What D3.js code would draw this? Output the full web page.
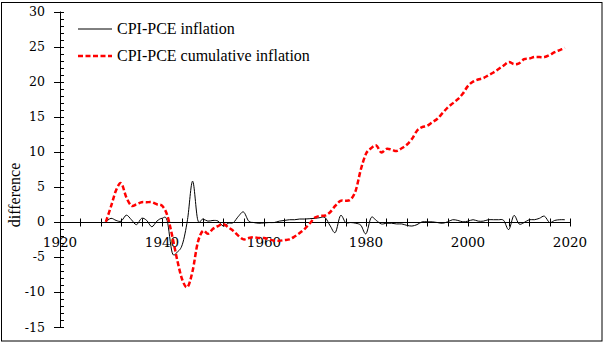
<!DOCTYPE html>
<html><head><meta charset="utf-8">
<script src="https://cdn.jsdelivr.net/npm/d3@7"></script>
<style>body{margin:0;background:#fff}svg{display:block}
.ser{font-family:'Liberation Serif','Times New Roman',serif}
.dser{font-family:'DejaVu Serif',serif}
</style>
</head><body>
<svg id="c" width="607" height="344"></svg>
<script>
const years = d3.range(1929, 2020);
const inflationDiff = [
 0.0, 0.5, 0.2, 0.1, 0.95, 0.3, -0.4, 0.5, 0.2, -0.7,
 0.1, 0.5, 0.2, -4.4, -4.3, -3.2, 0.3, 5.8, 0.3, 0.4,
 0.1, 0.2, 0.1, -0.6, -0.2, -0.1, 0.8, 1.4, 0.1, -0.1,
 -0.2, -0.15, -0.1, -0.1, 0.1, 0.2, 0.3, 0.3, 0.4, 0.4,
 0.45, 0.5, 0.6, 0.6, -0.6, -1.5, 0.9, -0.1, -0.1, -0.2,
 -0.5, -1.7, 0.6, 0.2, -0.3, -0.2, -0.2, -0.3, -0.3, -0.5,
 -0.6, -0.4, 0.0, 0.0, 0.0, -0.1, -0.2, 0.0, 0.3, 0.2,
 0.0, 0.1, 0.3, 0.1, 0.1, 0.3, 0.3, 0.3, 0.2, -1.1,
 0.9, -0.3, -0.1, 0.3, 0.3, 0.5, 0.8, -0.1, 0.2, 0.3,
 0.3
];
const cumulativeDiff = [
 0.0, 2.2, 4.5, 5.5, 3.5, 2.3, 2.5, 2.8, 2.8, 2.8,
 2.5, 2.3, 1.0, -2.0, -5.5, -8.3, -9.3, -7.0, -3.0, -1.3,
 -1.7, -1.0, -0.6, -0.3, -0.8, -1.3, -2.0, -2.5, -2.3, -2.2,
 -2.3, -2.3, -2.5, -2.7, -2.7, -2.6, -2.5, -2.1, -1.6, -1.0,
 -0.2, 0.6, 0.85, 0.9, 1.4, 2.3, 3.0, 3.0, 3.2, 4.5,
 7.5, 9.7, 10.5, 10.9, 9.9, 10.4, 10.3, 10.1, 10.5, 11.0,
 11.8, 13.0, 13.5, 13.7, 14.2, 14.7, 15.5, 16.3, 16.9, 17.5,
 18.3, 19.4, 20.0, 20.3, 20.5, 20.9, 21.3, 21.8, 22.3, 22.8,
 22.5, 22.6, 23.2, 23.3, 23.5, 23.5, 23.5, 23.8, 24.2, 24.5,
 24.8
];
const seriesNames = ["CPI-PCE inflation", "CPI-PCE cumulative inflation"];
const xTickLabels = [1920, 1940, 1960, 1980, 2000, 2020];
const yTickLabels = [30, 25, 20, 15, 10, 5, 0, -5, -10, -15];
const yTitle = "difference";

const svg = d3.select("#c");
const x = d3.scaleLinear().domain([1920, 2020]).range([60, 570]);
const y = d3.scaleLinear().domain([-15, 30]).range([327, 11.5]);

svg.append("rect").attr("x", 1.5).attr("y", 2.5).attr("width", 600.5).attr("height", 338.5)
  .attr("fill", "none").attr("stroke", "#000").attr("stroke-width", 1);

// Y axis
const gy = svg.append("g");
gy.append("line").attr("x1", 60.5).attr("x2", 60.5).attr("y1", y(30)).attr("y2", y(-15)).attr("stroke", "#000");
d3.range(-15, 31, 1).forEach(v => {
  const major = v % 5 === 0;
  gy.append("line").attr("x1", major ? 54 : 60).attr("x2", 64)
    .attr("y1", Math.round(y(v)) + 0.5).attr("y2", Math.round(y(v)) + 0.5).attr("stroke", "#000");
});
yTickLabels.forEach(v => {
  gy.append("text").attr("class", "dser").attr("x", 45).attr("y", y(v)).attr("dy", "0.36em")
    .attr("text-anchor", "end").attr("font-size", 12.5)
    .text(v < 0 ? "-" + Math.abs(v) : v);
});

// X axis at zero
const gx = svg.append("g");
const y0 = Math.round(y(0)) + 0.5;
gx.append("line").attr("x1", x(1920)).attr("x2", x(2020)).attr("y1", y0).attr("y2", y0).attr("stroke", "#000");
d3.range(1920, 2021, 4).forEach(v => {
  gx.append("line").attr("x1", Math.round(x(v)) + 0.5).attr("x2", Math.round(x(v)) + 0.5)
    .attr("y1", y0 - 4).attr("y2", y0 + 4).attr("stroke", "#000");
});
xTickLabels.forEach(v => {
  gx.append("text").attr("class", "dser").attr("x", x(v)).attr("y", 247).attr("text-anchor", "middle")
    .attr("font-size", 13.5).text(v);
});

// Y title
svg.append("text").attr("class", "ser").attr("transform", "translate(20,195) rotate(-90)").attr("text-anchor", "middle")
  .attr("font-size", 16).text(yTitle);

const curve = d3.curveCardinal.tension(0);
const line1 = d3.line().x((d, i) => x(years[i])).y(d => y(d)).curve(curve);

svg.append("path").datum(inflationDiff).attr("d", line1).attr("fill", "none")
  .attr("stroke", "#000").attr("stroke-width", 1);
svg.append("path").datum(cumulativeDiff).attr("d", line1).attr("fill", "none")
  .attr("stroke", "#ff0000").attr("stroke-width", 2.5).attr("stroke-dasharray", "5,2.5");

// Legend
const lg = svg.append("g");
lg.append("line").attr("x1", 78).attr("x2", 112).attr("y1", 29).attr("y2", 29).attr("stroke", "#000").attr("stroke-width", 1);
lg.append("text").attr("class", "ser").attr("x", 117).attr("y", 33.5).attr("font-size", 16).text(seriesNames[0]);
lg.append("line").attr("x1", 78).attr("x2", 112).attr("y1", 56).attr("y2", 56).attr("stroke", "#ff0000").attr("stroke-width", 2.5).attr("stroke-dasharray", "5,2.5");
lg.append("text").attr("class", "ser").attr("x", 117).attr("y", 61).attr("font-size", 16).text(seriesNames[1]);
</script>
</body></html>
